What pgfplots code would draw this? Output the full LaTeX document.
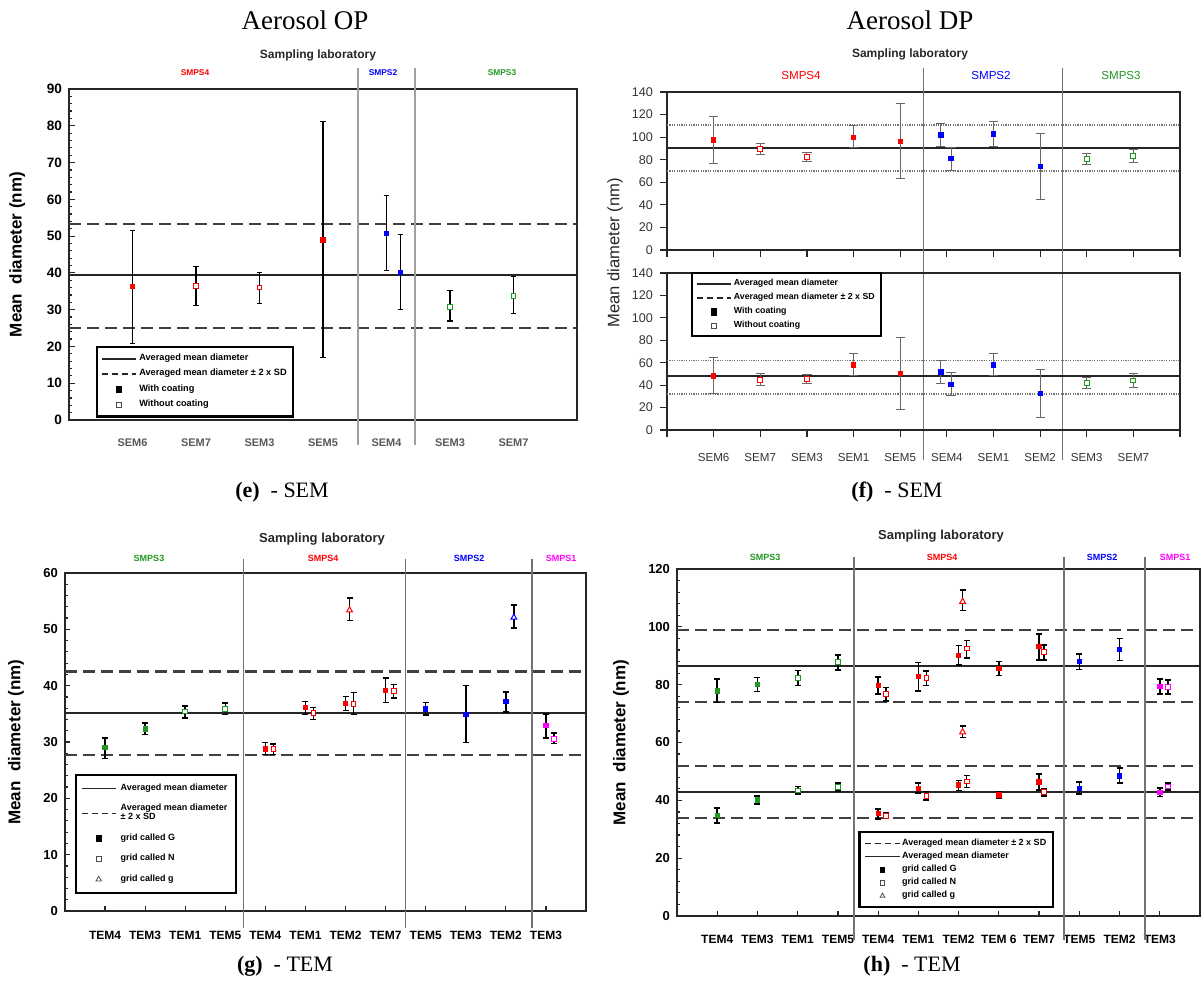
\documentclass[border=0pt]{standalone}
\usepackage{pgfplots}
\pgfplotsset{compat=1.18}
\usepackage{fontspec}
\setmainfont{Liberation Serif}
\setsansfont{Liberation Sans}
\newcommand{\fs}[1]{\fontsize{#1}{#1}\selectfont}
\definecolor{cred}{RGB}{255,0,0}
\definecolor{cblue}{RGB}{0,0,255}
\definecolor{cgreen}{RGB}{34,150,34}
\definecolor{cmag}{RGB}{255,0,255}
\pgfplotsset{
  base/.style={scale only axis, anchor=north west, clip=false, enlargelimits=false,
    /pgf/number format/assume math mode=true,
    axis line style={line width=1.3pt, black!85},
    tick style={black!85, line width=0.6pt},
    xtick pos=bottom, ytick pos=left, legend cell align=left},
  F/.style={only marks, forget plot, mark=square*, mark size=1.1pt,
    mark options={solid, draw=#1, fill=#1, line width=0.4pt},
    error bars/.cd, y dir=both, y explicit},
  O/.style={only marks, forget plot, mark=square*, mark size=1.2pt,
    mark options={solid, draw=#1, fill=white, line width=0.5pt},
    error bars/.cd, y dir=both, y explicit},
  T/.style={only marks, forget plot, mark=triangle*, mark size=1.7pt,
    mark options={solid, draw=#1, fill=white, line width=0.5pt},
    error bars/.cd, y dir=both, y explicit},
  meanl/.style={black!85, line width=1pt, forget plot},
  dashl/.style={black!75, line width=1.1pt, dash pattern=on 6pt off 3pt, forget plot},
  dotl/.style={black!55, line width=0.9pt, dash pattern=on 0.6pt off 0.6pt, forget plot},
}
\begin{document}
\begin{tikzpicture}
\path[use as bounding box] (0,0) rectangle (601pt,-491.5pt);

% ---------------- panel e ----------------
\begin{axis}[base, at={(34.5pt,-44.5pt)}, width=254pt, height=165.5pt,
  xmin=0, xmax=8, ymin=0, ymax=90,
  xtick={1,...,7}, xticklabels={SEM6,SEM7,SEM3,SEM5,SEM4,SEM3,SEM7},
  x tick label style={font=\sffamily\bfseries\fs{5.5}, text=black!65, yshift=-6pt},
  xtick style={draw=none},
  ytick={0,10,...,90}, minor y tick num=4, tick align=inside,
  major tick length=3pt, minor tick length=1.6pt,
  y tick label style={font=\sffamily\bfseries\fs{6.8}},
  ylabel={Mean\ \ diameter (nm)},
  ylabel style={font=\sffamily\bfseries\fs{8.5}, at={(axis description cs:-0.102,0.5)}, anchor=center},
  error bars/error bar style={black, line width=0.6pt},
  error bars/error mark options={black, line width=0.6pt, mark size=1.4pt, rotate=90},
  legend style={at={(axis cs:0.42,20.1)}, anchor=north west, draw=black, line width=1.1pt,
    font=\sffamily\bfseries\fs{4.6}, row sep=0.3pt, inner sep=2pt, nodes={inner sep=1.3pt, text depth=0.15em}},
]
\addlegendimage{black!85, line width=0.9pt}
\addlegendimage{black!85, line width=0.9pt, dash pattern=on 3pt off 2pt}
\addlegendimage{only marks, mark=square*, mark size=1.2pt, mark options={black, yscale=1.3, line width=0.3pt}}
\addlegendimage{only marks, mark=square, mark size=1.2pt, mark options={black!70, line width=0.4pt}}
\addplot[meanl] coordinates {(0,39.3) (8,39.3)};
\addplot[dashl] coordinates {(0,53.4) (8,53.4)};
\addplot[dashl] coordinates {(0,25.1) (8,25.1)};
\draw[gray!75, line width=0.8pt] (axis cs:4.55,95.7) -- (axis cs:4.55,-6.8);
\draw[gray!75, line width=0.8pt] (axis cs:5.45,95.7) -- (axis cs:5.45,-6.8);
\addplot[F=cred] table[x=x,y=y,y error plus=p,y error minus=m,row sep=\\]{
x y p m\\ 1 36.3 15.2 15.4\\ 4 49.0 32.2 32.0\\};
\addplot[O=cred] table[x=x,y=y,y error plus=p,y error minus=m,row sep=\\]{
x y p m\\ 2 36.4 5.3 5.3\\ 3 36.0 4.2 4.3\\};
\addplot[F=cblue] table[x=x,y=y,y error plus=p,y error minus=m,row sep=\\]{
x y p m\\ 5 50.8 10.2 10.2\\ 5.22 40.2 10.3 10.1\\};
\addplot[O=cgreen] table[x=x,y=y,y error plus=p,y error minus=m,row sep=\\]{
x y p m\\ 6 30.8 4.4 3.9\\ 7 33.8 5.3 4.8\\};
\legend{Averaged mean diameter, Averaged mean diameter ± 2 x SD, With coating, Without coating}
\end{axis}

% ---------------- panel f upper ----------------
\begin{axis}[base, at={(333.5pt,-46pt)}, width=256.5pt, height=79pt,
  xmin=0, xmax=11, ymin=0, ymax=140,
  axis line style={line width=1pt, black!85},
  xtick={0,...,11}, xticklabels={},
  ytick={0,20,...,140}, tick align=outside, major tick length=3.5pt,
  y tick label style={font=\sffamily\fs{6.3}, text=black!80},
  error bars/error bar style={black!60, line width=0.5pt},
  error bars/error mark options={black!60, line width=0.5pt, mark size=2.3pt, rotate=90},
]
\addplot[meanl] coordinates {(0,90.6) (11,90.6)};
\addplot[dotl] coordinates {(0,111) (11,111)};
\addplot[dotl] coordinates {(0,70.1) (11,70.1)};
\draw[black!55, line width=0.6pt] (axis cs:5.5,161.3) -- (axis cs:5.5,-186);
\draw[black!55, line width=0.6pt] (axis cs:8.48,161.3) -- (axis cs:8.48,-186);
\addplot[F=cred] table[x=x,y=y,y error plus=p,y error minus=m,row sep=\\]{
x y p m\\ 1 97.7 20.7 20.8\\ 4 100 10.7 9.4\\ 5 96.2 33.4 32.6\\};
\addplot[O=cred] table[x=x,y=y,y error plus=p,y error minus=m,row sep=\\]{
x y p m\\ 2 89.4 5.0 5.1\\ 3 82.3 4.4 3.6\\};
\addplot[F=cblue] table[x=x,y=y,y error plus=p,y error minus=m,row sep=\\]{
x y p m\\ 5.87 102.1 10.4 10.4\\ 6.09 81.1 9.8 10.7\\ 7 102.7 10.9 11.3\\ 8 74 29.3 29\\};
\addplot[O=cgreen] table[x=x,y=y,y error plus=p,y error minus=m,row sep=\\]{
x y p m\\ 9 80.8 4.4 5.3\\ 10 83.2 6.2 5.7\\};
\end{axis}

% ---------------- panel f lower ----------------
\begin{axis}[base, at={(333.5pt,-136.5pt)}, width=256.5pt, height=78.5pt,
  xmin=0, xmax=11, ymin=0, ymax=140,
  axis line style={line width=1pt, black!85},
  xtick={0,...,11}, xticklabels={,SEM6,SEM7,SEM3,SEM1,SEM5,SEM4,SEM1,SEM2,SEM3,SEM7,},
  x tick label style={font=\sffamily\fs{5.8}, text=black!80, yshift=-4.5pt},
  ytick={0,20,...,140}, tick align=outside, major tick length=3.5pt,
  y tick label style={font=\sffamily\fs{6.3}, text=black!80},
  error bars/error bar style={black!60, line width=0.5pt},
  error bars/error mark options={black!60, line width=0.5pt, mark size=2.3pt, rotate=90},
  legend style={at={(axis cs:0.51,140.9)}, anchor=north west, draw=black, line width=1.1pt,
    font=\sffamily\bfseries\fs{4.4}, row sep=0.3pt, inner sep=2pt, nodes={inner sep=1pt, text depth=0.15em}},
]
\addlegendimage{black!85, line width=0.9pt}
\addlegendimage{black!85, line width=0.9pt, dash pattern=on 3pt off 2pt}
\addlegendimage{only marks, mark=square*, mark size=1.2pt, mark options={black, yscale=1.3, line width=0.3pt}}
\addlegendimage{only marks, mark=square, mark size=1.2pt, mark options={black!70, line width=0.4pt}}
\addplot[meanl] coordinates {(0,48.3) (11,48.3)};
\addplot[dotl] coordinates {(0,62) (11,62)};
\addplot[dotl] coordinates {(0,31.9) (11,31.9)};
\addplot[F=cred] table[x=x,y=y,y error plus=p,y error minus=m,row sep=\\]{
x y p m\\ 1 48.3 16.1 16.1\\ 4 58.1 10.4 9.8\\ 5 50.6 32.2 32.1\\};
\addplot[O=cred] table[x=x,y=y,y error plus=p,y error minus=m,row sep=\\]{
x y p m\\ 2 44.7 5.3 4.8\\ 3 45.3 4.4 3.9\\};
\addplot[F=cblue] table[x=x,y=y,y error plus=p,y error minus=m,row sep=\\]{
x y p m\\ 5.87 51.8 10.2 10.7\\ 6.09 40.8 10.4 10.4\\ 7 58.1 10.4 9.8\\ 8 32.8 20.8 21.5\\};
\addplot[O=cgreen] table[x=x,y=y,y error plus=p,y error minus=m,row sep=\\]{
x y p m\\ 9 41.7 4.8 4.8\\ 10 44.1 6.5 6.3\\};
\legend{Averaged mean diameter, Averaged mean diameter ± 2 x SD, With coating, Without coating}
\end{axis}

% ---------------- panel g ----------------
\begin{axis}[base, at={(32.5pt,-286.5pt)}, width=260.5pt, height=169pt,
  xmin=0, xmax=13, ymin=0, ymax=60,
  xtick={1,...,12}, xticklabels={TEM4,TEM3,TEM1,TEM5,TEM4,TEM1,TEM2,TEM7,TEM5,TEM3,TEM2,TEM3},
  x tick label style={font=\sffamily\bfseries\fs{6}, yshift=-6.5pt},
  ytick={0,10,...,60}, minor y tick num=4, tick align=inside,
  major tick length=2.5pt, minor tick length=1.5pt,
  y tick label style={font=\sffamily\bfseries\fs{6.5}},
  ylabel={Mean\ \ diameter (nm)},
  ylabel style={font=\sffamily\bfseries\fs{8.5}, at={(axis description cs:-0.094,0.5)}, anchor=center},
  error bars/error bar style={black, line width=0.8pt},
  error bars/error mark options={black, line width=0.8pt, mark size=1.5pt, rotate=90},
  legend style={at={(axis cs:0.24,24.4)}, anchor=north west, draw=black, line width=1.1pt,
    font=\sffamily\bfseries\fs{4.5}, row sep=1.5pt, inner sep=2.5pt, cells={align=left}},
]
\addlegendimage{black!85, line width=0.9pt}
\addlegendimage{black!85, line width=0.9pt, dash pattern=on 3pt off 2pt}
\addlegendimage{only marks, mark=square*, mark size=1.2pt, mark options={black, yscale=1.3, line width=0.3pt}}
\addlegendimage{only marks, mark=square, mark size=1.2pt, mark options={black!70, line width=0.4pt}}
\addlegendimage{only marks, mark=triangle, mark size=1.6pt, mark options={black!70, line width=0.4pt}}
\addplot[meanl] coordinates {(0,35.2) (13,35.2)};
\addplot[dashl] coordinates {(0,42.5) (13,42.5)};
\addplot[dashl] coordinates {(0,27.7) (13,27.7)};
\draw[black!55, line width=0.6pt] (axis cs:4.45,62.5) -- (axis cs:4.45,-3);
\draw[black!55, line width=0.6pt] (axis cs:8.5,62.5) -- (axis cs:8.5,-3);
\draw[black!55, line width=0.6pt] (axis cs:11.65,62.5) -- (axis cs:11.65,-3);
\addplot[F=cgreen] table[x=x,y=y,y error plus=p,y error minus=m,row sep=\\]{
x y p m\\ 1 29.0 1.7 1.9\\ 2 32.3 1.1 1.0\\};
\addplot[O=cgreen] table[x=x,y=y,y error plus=p,y error minus=m,row sep=\\]{
x y p m\\ 3 35.4 1.0 1.1\\ 4 35.9 1.0 1.0\\};
\addplot[F=cred] table[x=x,y=y,y error plus=p,y error minus=m,row sep=\\]{
x y p m\\ 5 28.8 1.1 1.0\\ 6 36.1 1.1 1.2\\ 7 36.9 1.2 1.3\\ 8 39.2 2.2 2.2\\};
\addplot[O=cred] table[x=x,y=y,y error plus=p,y error minus=m,row sep=\\]{
x y p m\\ 5.2 28.7 0.9 0.9\\ 6.2 35.1 1.0 1.1\\ 7.2 36.8 2.0 1.9\\ 8.2 39.0 1.2 1.2\\};
\addplot[T=cred] table[x=x,y=y,y error plus=p,y error minus=m,row sep=\\]{
x y p m\\ 7.1 53.4 2.2 1.8\\};
\addplot[F=cblue] table[x=x,y=y,y error plus=p,y error minus=m,row sep=\\]{
x y p m\\ 9 35.9 1.1 1.1\\ 10 34.9 5.1 5.0\\ 11 37.2 1.7 1.9\\};
\addplot[T=cblue] table[x=x,y=y,y error plus=p,y error minus=m,row sep=\\]{
x y p m\\ 11.2 52.1 2.2 1.9\\};
\addplot[F=cmag] table[x=x,y=y,y error plus=p,y error minus=m,row sep=\\]{
x y p m\\ 12 32.9 2.1 2.2\\};
\addplot[O=cmag] table[x=x,y=y,y error plus=p,y error minus=m,row sep=\\]{
x y p m\\ 12.2 30.5 1.1 0.8\\};
\legend{Averaged mean diameter, {Averaged mean diameter\\± 2 x SD}, grid called G, grid called N, grid called g}
\end{axis}

% ---------------- panel h ----------------
\begin{axis}[base, at={(338.5pt,-284.5pt)}, width=261.5pt, height=173.5pt,
  xmin=0, xmax=13, ymin=0, ymax=120,
  xtick={1,...,12}, xticklabels={TEM4,TEM3,TEM1,TEM5,TEM4,TEM1,TEM2,TEM 6,TEM7,TEM5,TEM2,TEM3},
  x tick label style={font=\sffamily\bfseries\fs{6}, yshift=-6pt},
  ytick={0,20,...,120}, minor y tick num=4, tick align=inside,
  major tick length=2.5pt, minor tick length=1.5pt,
  y tick label style={font=\sffamily\bfseries\fs{6.5}},
  ylabel={Mean\ \ diameter (nm)},
  ylabel style={font=\sffamily\bfseries\fs{8.5}, at={(axis description cs:-0.107,0.5)}, anchor=center},
  error bars/error bar style={black, line width=0.8pt},
  error bars/error mark options={black, line width=0.8pt, mark size=1.5pt, rotate=90},
  legend style={at={(axis cs:4.51,29.4)}, anchor=north west, draw=black, line width=1.1pt,
    font=\sffamily\bfseries\fs{4.5}, row sep=0.2pt, inner sep=2.5pt, nodes={inner sep=0.8pt, text depth=0.15em}},
]
\addlegendimage{black!85, line width=0.9pt, dash pattern=on 3pt off 2pt}
\addlegendimage{black!85, line width=0.9pt}
\addlegendimage{only marks, mark=square*, mark size=1.1pt, mark options={black, line width=0.3pt}}
\addlegendimage{only marks, mark=square, mark size=1.1pt, mark options={black!70, line width=0.4pt}}
\addlegendimage{only marks, mark=triangle, mark size=1.4pt, mark options={black!70, line width=0.4pt}}
\addplot[meanl] coordinates {(0,86.6) (13,86.6)};
\addplot[meanl] coordinates {(0,43.0) (13,43.0)};
\addplot[dashl] coordinates {(0,98.8) (13,98.8)};
\addplot[dashl] coordinates {(0,74.1) (13,74.1)};
\addplot[dashl] coordinates {(0,52.0) (13,52.0)};
\addplot[dashl] coordinates {(0,33.9) (13,33.9)};
\draw[black!55, line width=0.6pt] (axis cs:4.4,124.1) -- (axis cs:4.4,-8.3);
\draw[black!55, line width=0.6pt] (axis cs:9.62,124.1) -- (axis cs:9.62,-8.3);
\draw[black!55, line width=0.6pt] (axis cs:11.63,124.1) -- (axis cs:11.63,-8.3);
\addplot[F=cgreen] table[x=x,y=y,y error plus=p,y error minus=m,row sep=\\]{
x y p m\\ 1 77.9 4.0 4.1\\ 2 80.1 2.4 2.4\\ 1 34.7 2.6 2.6\\ 2 40.2 1.2 1.5\\};
\addplot[O=cgreen] table[x=x,y=y,y error plus=p,y error minus=m,row sep=\\]{
x y p m\\ 3 82.3 2.6 2.6\\ 4 87.8 2.5 2.8\\ 3 43.4 1.4 1.3\\ 4 44.5 1.4 1.3\\};
\addplot[F=cred] table[x=x,y=y,y error plus=p,y error minus=m,row sep=\\]{
x y p m\\ 5 79.7 2.9 2.9\\ 6 82.8 4.9 5.0\\ 7 90.1 3.4 3.2\\ 8 85.6 2.4 2.4\\ 9 93.2 4.4 4.7\\
5 35.5 1.5 1.9\\ 6 44.1 1.8 1.6\\ 7 45.3 1.5 1.9\\ 8 41.9 1.0 1.3\\ 9 46.4 2.8 2.8\\};
\addplot[O=cred] table[x=x,y=y,y error plus=p,y error minus=m,row sep=\\]{
x y p m\\ 5.19 76.8 2.2 2.4\\ 6.2 82.2 2.5 2.5\\ 7.2 92.5 2.8 3.2\\ 9.12 91.2 2.6 2.7\\
5.19 34.6 1.2 0.8\\ 6.2 41.5 1.5 1.3\\ 7.2 46.5 2.1 2.1\\ 9.12 42.9 1.2 1.4\\};
\addplot[T=cred] table[x=x,y=y,y error plus=p,y error minus=m,row sep=\\]{
x y p m\\ 7.1 108.7 4.1 3.1\\ 7.1 63.6 2.2 1.9\\};
\addplot[F=cblue] table[x=x,y=y,y error plus=p,y error minus=m,row sep=\\]{
x y p m\\ 10 88.0 2.6 2.7\\ 11 92.1 3.8 3.7\\ 10 44.2 2.1 2.1\\ 11 48.5 2.6 2.6\\};
\addplot[F=cmag] table[x=x,y=y,y error plus=p,y error minus=m,row sep=\\]{
x y p m\\ 12 79.4 2.5 2.7\\ 12 42.8 1.4 1.5\\};
\addplot[O=cmag] table[x=x,y=y,y error plus=p,y error minus=m,row sep=\\]{
x y p m\\ 12.2 79.2 2.4 2.5\\ 12.2 44.8 1.1 1.2\\};
\legend{Averaged mean diameter ± 2 x SD, Averaged mean diameter, grid called G, grid called N, grid called g}
\end{axis}

% ---------------- texts ----------------
\node[font=\fs{13.5}] at (152.5pt,-10pt) {Aerosol OP};
\node[font=\fs{13.5}] at (455pt,-10pt) {Aerosol DP};
\node[font=\fs{11}] at (141pt,-246pt) {\textbf{(e)}\ \ - SEM};
\node[font=\fs{11}] at (448.5pt,-246pt) {\textbf{(f)}\ \ - SEM};
\node[font=\fs{11}] at (142.5pt,-483pt) {\textbf{(g)}\ \ - TEM};
\node[font=\fs{11}] at (456pt,-483pt) {\textbf{(h)}\ \ - TEM};

\node[font=\sffamily\bfseries\fs{6}, text=black!85] at (159pt,-27.5pt) {Sampling laboratory};
\node[font=\sffamily\bfseries\fs{4.2}, text=cred] at (97.5pt,-36.5pt) {SMPS4};
\node[font=\sffamily\bfseries\fs{4.2}, text=cblue] at (191.5pt,-36.5pt) {SMPS2};
\node[font=\sffamily\bfseries\fs{4.2}, text=cgreen] at (251pt,-36.5pt) {SMPS3};

\node[font=\sffamily\bfseries\fs{6}, text=black!85] at (455pt,-27pt) {Sampling laboratory};
\node[font=\sffamily\fs{5.8}, text=cred] at (400.5pt,-38pt) {SMPS4};
\node[font=\sffamily\fs{5.8}, text=cblue] at (495.5pt,-38pt) {SMPS2};
\node[font=\sffamily\fs{5.8}, text=cgreen] at (560.5pt,-38pt) {SMPS3};
\node[font=\sffamily\fs{8.3}, text=black!85, rotate=90] at (307.5pt,-126.5pt) {Mean diameter (nm)};

\node[font=\sffamily\bfseries\fs{6.5}, text=black!85] at (161pt,-269.5pt) {Sampling laboratory};
\node[font=\sffamily\bfseries\fs{4.5}, text=cgreen] at (74.5pt,-279pt) {SMPS3};
\node[font=\sffamily\bfseries\fs{4.5}, text=cred] at (161.5pt,-279pt) {SMPS4};
\node[font=\sffamily\bfseries\fs{4.5}, text=cblue] at (234.5pt,-279pt) {SMPS2};
\node[font=\sffamily\bfseries\fs{4.5}, text=cmag] at (280.5pt,-279pt) {SMPS1};

\node[font=\sffamily\bfseries\fs{6.5}, text=black!85] at (470.5pt,-268pt) {Sampling laboratory};
\node[font=\sffamily\bfseries\fs{4.5}, text=cgreen] at (382.5pt,-278.5pt) {SMPS3};
\node[font=\sffamily\bfseries\fs{4.5}, text=cred] at (471pt,-278.5pt) {SMPS4};
\node[font=\sffamily\bfseries\fs{4.5}, text=cblue] at (551pt,-278.5pt) {SMPS2};
\node[font=\sffamily\bfseries\fs{4.5}, text=cmag] at (587.5pt,-278.5pt) {SMPS1};
\end{tikzpicture}
\end{document}
